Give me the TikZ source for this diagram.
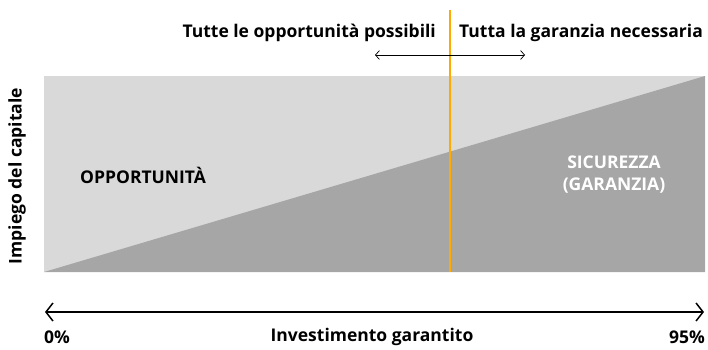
\documentclass[tikz,border=0pt]{standalone}
\usepackage{fontspec}
\setmainfont{Open Sans}
\usetikzlibrary{arrows.meta}
\definecolor{lightg}{HTML}{D9D9D9}
\definecolor{darkg}{HTML}{A6A6A6}
\definecolor{orangel}{HTML}{FFAA00}
\begin{document}
\begin{tikzpicture}[x=1pt,y=-1pt,
  lbl/.style={font=\bfseries\fontsize{17.5}{22}\selectfont, inner sep=0pt}]
\useasboundingbox (0,0) rectangle (708,349);
\coordinate (tl) at (44,76);
\coordinate (tr) at (705,76);
\coordinate (br) at (705,272);
\coordinate (bl) at (44,272);
\fill[lightg] (tl) rectangle (br);
\fill[darkg] (bl) -- (tr) -- (br) -- cycle;
\coordinate (otop) at (450,10);
\coordinate (obot) at (450,272);
\draw[orangel, line width=2pt] (otop) -- (obot);
\coordinate (sa) at (375,55);
\coordinate (sb) at (525,55);
\draw[{Straight Barb[length=4pt,width=9pt]}-{Straight Barb[length=4pt,width=9pt]}, line width=0.7pt] (sa) -- (sb);
\coordinate (ba) at (45,312);
\coordinate (bb) at (704,312);
\draw[{Straight Barb[length=7pt,width=18pt]}-{Straight Barb[length=7pt,width=18pt]}, line width=1.5pt] (ba) -- (bb);
\node[lbl, anchor=east] (lt) at (436,33) {Tutte le opportunità possibili};
\node[lbl, anchor=west] (rt) at (459,33) {Tutta la garanzia necessaria};
\node[lbl, anchor=west] (op) at (80,175) {OPPORTUNITÀ};
\node[lbl, white, align=center] (sic) at (614,175) {SICUREZZA\\(GARANZIA)};
\node[lbl, rotate=90] (yl) at (17,176) {Impiego del capitale};
\node[lbl, anchor=west] (z) at (44,337) {0\%};
\node[lbl, anchor=east] (n) at (705,337) {95\%};
\node[lbl] (ig) at (372,337) {Investimento garantito};
\end{tikzpicture}
\end{document}
